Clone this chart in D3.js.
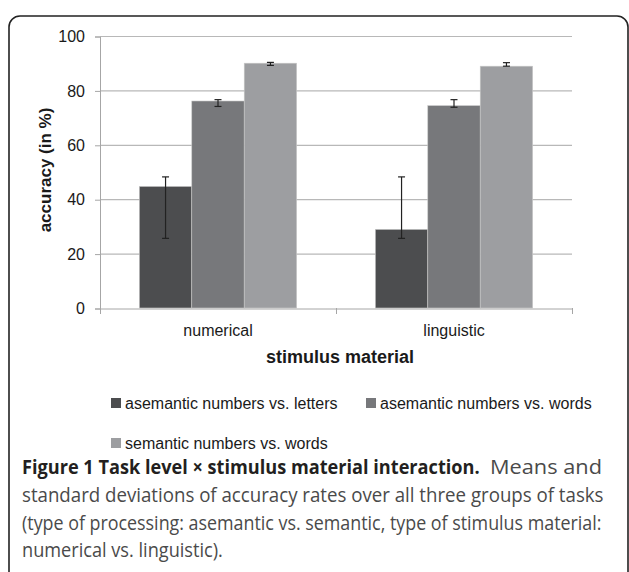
<!DOCTYPE html>
<html>
<head>
<meta charset="utf-8">
<script src="https://cdn.jsdelivr.net/npm/d3@7"></script>
<style>
  body { margin: 0; background: #fff; }
  svg { display: block; }
  .arial { font-family: Arial, 'Liberation Sans', sans-serif; }
  .cap { font-family: 'Open Sans', 'Noto Sans', sans-serif; }
</style>
</head>
<body>
<div id="viz"></div>
<script>
var width = 629;
var height = 572;

// data
var categories = ['numerical', 'linguistic'];
var seriesNames = ['asemantic numbers vs. letters', 'asemantic numbers vs. words', 'semantic numbers vs. words'];
var numericalMeans = [44.7, 76.1, 90.0];
var linguisticMeans = [28.9, 74.4, 88.9];
var numericalErrLow = [25.6, 74.1, 89.2];
var numericalErrHigh = [48.2, 76.6, 90.3];
var linguisticErrLow = [25.6, 73.8, 88.9];
var linguisticErrHigh = [48.2, 76.6, 90.2];
var yTicks = [0, 20, 40, 60, 80, 100];

var colors = ['#4c4d4f', '#77787b', '#9d9ea1'];

var rows = [
  { cat: 'numerical', means: numericalMeans, lo: numericalErrLow, hi: numericalErrHigh },
  { cat: 'linguistic', means: linguisticMeans, lo: linguisticErrLow, hi: linguisticErrHigh }
];

var bars = [];
rows.forEach(function (r) {
  seriesNames.forEach(function (s, i) {
    bars.push({ cat: r.cat, series: s, i: i, value: r.means[i], lo: r.lo[i], hi: r.hi[i] });
  });
});

var plot = { left: 100, right: 572, top: 36, bottom: 308 };

var svg = d3.select('#viz').append('svg')
  .attr('width', width)
  .attr('height', height);

// frame round the figure
svg.append('rect')
  .attr('x', 9).attr('y', 16)
  .attr('width', 619).attr('height', 620)
  .attr('rx', 11)
  .style('fill', 'none')
  .style('stroke', '#222')
  .style('stroke-width', 1.6);

var x0 = d3.scaleBand().domain(categories).range([plot.left, plot.right]);
var x1 = d3.scaleBand().domain(seriesNames).range([0, x0.bandwidth()]).paddingOuter(0.75);
var y = d3.scaleLinear().domain([0, 100]).range([plot.bottom, plot.top]);

// gridlines
svg.append('g').selectAll('line')
  .data(yTicks.filter(function (d) { return d > 0; }))
  .enter().append('line')
  .attr('x1', plot.left).attr('x2', plot.right)
  .attr('y1', function (d) { return y(d) + 0.5; })
  .attr('y2', function (d) { return y(d) + 0.5; })
  .style('stroke', '#b8b8b8')
  .style('stroke-width', 1.2);

// y axis
var yAxis = svg.append('g')
  .attr('transform', 'translate(' + plot.left + ',0.5)')
  .call(d3.axisLeft(y).tickValues(yTicks).tickSize(5).tickPadding(10));
yAxis.attr('font-family', null);
yAxis.select('.domain').style('stroke', '#a6a6a6');
yAxis.selectAll('.tick line').style('stroke', '#a6a6a6');
yAxis.selectAll('text')
  .attr('class', 'arial').style('font-size', '16px').style('fill', '#1a1a1a');

// bars
svg.append('g').selectAll('rect')
  .data(bars).enter().append('rect')
  .attr('x', function (d) { return x0(d.cat) + x1(d.series); })
  .attr('y', function (d) { return y(d.value); })
  .attr('width', x1.bandwidth())
  .attr('height', function (d) { return y(0) - y(d.value); })
  .style('fill', function (d) { return colors[d.i]; })
  .style('stroke', '#c8c8c8')
  .style('stroke-width', 0.6);

// x axis
var xAxis = svg.append('g')
  .attr('transform', 'translate(0,' + (plot.bottom + 0.5) + ')')
  .call(d3.axisBottom(x0).tickSize(0).tickPadding(16));
xAxis.attr('font-family', null);
xAxis.select('.domain').style('stroke', '#a6a6a6');
xAxis.selectAll('text')
  .attr('class', 'arial').style('font-size', '16px').style('fill', '#1a1a1a');
svg.append('g').selectAll('line')
  .data([plot.left, x0('linguistic'), plot.right])
  .enter().append('line')
  .attr('x1', function (d) { return d + 0.5; })
  .attr('x2', function (d) { return d + 0.5; })
  .attr('y1', plot.bottom).attr('y2', plot.bottom + 6)
  .style('stroke', '#a6a6a6');

// error bars
var err = svg.append('g').selectAll('g')
  .data(bars).enter().append('g')
  .attr('transform', function (d) {
    return 'translate(' + (x0(d.cat) + x1(d.series) + x1.bandwidth() / 2) + ',0)';
  })
  .style('stroke', '#222')
  .style('stroke-width', 1.2);
err.append('line')
  .attr('y1', function (d) { return y(d.lo); })
  .attr('y2', function (d) { return y(d.hi); });
err.append('line')
  .attr('x1', -3.5).attr('x2', 3.5)
  .attr('y1', function (d) { return y(d.lo); })
  .attr('y2', function (d) { return y(d.lo); });
err.append('line')
  .attr('x1', -3.5).attr('x2', 3.5)
  .attr('y1', function (d) { return y(d.hi); })
  .attr('y2', function (d) { return y(d.hi); });

// axis titles
svg.append('text')
  .attr('class', 'arial')
  .attr('transform', 'translate(51,170) rotate(-90)')
  .attr('text-anchor', 'middle')
  .style('font-size', '17px').style('font-weight', 'bold').style('fill', '#1a1a1a')
  .text('accuracy (in %)');

svg.append('text')
  .attr('class', 'arial')
  .attr('x', (plot.left + plot.right) / 2 + 4)
  .attr('y', 363)
  .attr('text-anchor', 'middle')
  .style('font-size', '18px').style('font-weight', 'bold').style('fill', '#1a1a1a')
  .text('stimulus material');

// legend
var legendPos = [[111, 398], [366, 398], [111, 438]];
var legend = svg.append('g').selectAll('g')
  .data(seriesNames).enter().append('g')
  .attr('transform', function (d, i) { return 'translate(' + legendPos[i][0] + ',' + legendPos[i][1] + ')'; });
legend.append('rect')
  .attr('width', 10).attr('height', 10)
  .style('fill', function (d, i) { return colors[i]; });
legend.append('text')
  .attr('class', 'arial')
  .attr('x', 14).attr('y', 11)
  .style('font-size', '16px').style('fill', '#1a1a1a')
  .text(function (d) { return d; });

// caption: condensed look by squeezing each line to its width in the figure
var capLines = [
  { text: 'Figure 1 Task level \u00d7 stimulus material interaction.', x: 22, y: 474, w: 458, bold: true },
  { text: 'Means and', x: 490, y: 474, w: 112 },
  { text: 'standard deviations of accuracy rates over all three groups of tasks', x: 22, y: 502, w: 582 },
  { text: '(type of processing: asemantic vs. semantic, type of stimulus material:', x: 22, y: 530, w: 580 },
  { text: 'numerical vs. linguistic).', x: 22, y: 557, w: 201 }
];
svg.append('g').selectAll('text')
  .data(capLines).enter().append('text')
  .attr('class', 'cap')
  .style('font-size', '19.5px')
  .style('font-weight', function (d) { return d.bold ? 'bold' : 'normal'; })
  .style('fill', function (d) { return d.bold ? '#231f20' : '#4a4a4a'; })
  .text(function (d) { return d.text; })
  .attr('transform', function (d) {
    var k = d.w / this.getComputedTextLength();
    return 'translate(' + d.x + ',' + d.y + ') scale(' + k + ',1)';
  });
</script>
</body>
</html>
